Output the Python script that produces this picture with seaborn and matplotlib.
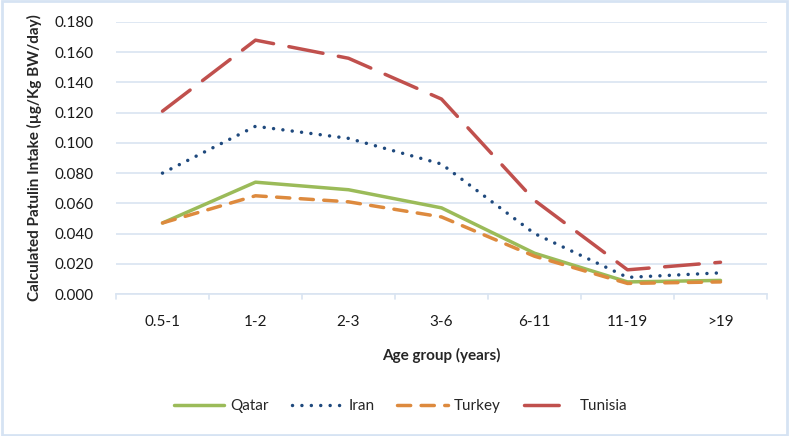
import matplotlib
matplotlib.use("Agg")
from matplotlib import pyplot as plt
from matplotlib.patches import Rectangle
import pandas as pd
import seaborn as sns

age_groups = ['0.5-1', '1-2', '2-3', '3-6', '6-11', '11-19', '>19']
qatar = [0.047, 0.074, 0.069, 0.057, 0.027, 0.008, 0.009]
iran = [0.080, 0.111, 0.103, 0.086, 0.040, 0.011, 0.014]
turkey = [0.047, 0.065, 0.061, 0.051, 0.025, 0.007, 0.008]
tunisia = [0.121, 0.168, 0.156, 0.129, 0.062, 0.016, 0.021]
countries = ['Qatar', 'Iran', 'Turkey', 'Tunisia']

rows = []
for name, vals in zip(countries, [qatar, iran, turkey, tunisia]):
    for i, (g, v) in enumerate(zip(age_groups, vals)):
        rows.append({'pos': i, 'Age': g, 'Country': name, 'Intake': v})
df = pd.DataFrame(rows)

sns.set_style('white')
plt.rcParams['font.family'] = ['Lato', 'DejaVu Sans']

palette = {'Qatar': '#9BBB59', 'Iran': '#1F497D', 'Turkey': '#DD8A3E', 'Tunisia': '#C0504D'}
dashes = {'Qatar': '', 'Iran': (0.01, 2.7), 'Turkey': (3.8, 3.0), 'Tunisia': (10, 4.5)}

fig = plt.figure(figsize=(7.89, 4.36), dpi=100)
ax = fig.add_axes([116 / 789, 1 - 294 / 436, 651 / 789, 272 / 436])

sns.lineplot(data=df, x='pos', y='Intake', hue='Country', style='Country',
             palette=palette, dashes=dashes, linewidth=2.5, ax=ax, legend=False,
             hue_order=countries, style_order=countries)
for ln in ax.get_lines():
    ln.set_dash_capstyle('round')
    ln.set_solid_joinstyle('round')

fs = 11
grid_c = '#D9E4F1'
ax.set_xlim(-0.5, 6.5)
ax.set_ylim(0, 0.18)
ax.set_yticks([i * 0.02 for i in range(10)])
ax.set_yticklabels([f'{i * 0.02:.3f}' for i in range(10)], fontsize=fs, color='#1a1a1a')
ax.set_xticks(range(7))
ax.set_xticklabels(age_groups, fontsize=fs, color='#1a1a1a')
ax.yaxis.grid(True, color=grid_c, linewidth=1.2)
ax.set_axisbelow(True)
for s in ['top', 'right', 'left']:
    ax.spines[s].set_visible(False)
ax.spines['bottom'].set_color(grid_c)
ax.spines['bottom'].set_linewidth(1.2)
ax.tick_params(axis='y', length=0, pad=16)
ax.tick_params(axis='x', length=0, pad=15)
# category boundary tick marks
for b in [i - 0.5 for i in range(8)]:
    ax.plot([b, b], [0, -0.0035], color=grid_c, linewidth=1.2, clip_on=False)

ax.set_xlabel('Age group (years)', fontsize=fs, fontweight='bold', labelpad=14)
ax.set_ylabel('Calculated Patulin Intake (µg/Kg BW/day)', fontsize=fs,
              fontweight='bold', labelpad=9)

handles = [plt.Line2D([], [], color=palette[c], linewidth=2.5,
                      dashes=dashes[c] if dashes[c] else (None, None),
                      dash_capstyle='round') for c in countries]
fig.legend(handles, countries, loc='center', bbox_to_anchor=(0.508, 1 - 406 / 436),
           ncol=4, frameon=False, fontsize=fs, handlelength=3.3, handletextpad=0.4,
           columnspacing=1.5)

fig.patches.append(Rectangle((0.002, 0.003), 0.996, 0.994, transform=fig.transFigure,
                             fill=False, edgecolor='#D6E3F3', linewidth=2))

fig.savefig('out.png', dpi=100)
